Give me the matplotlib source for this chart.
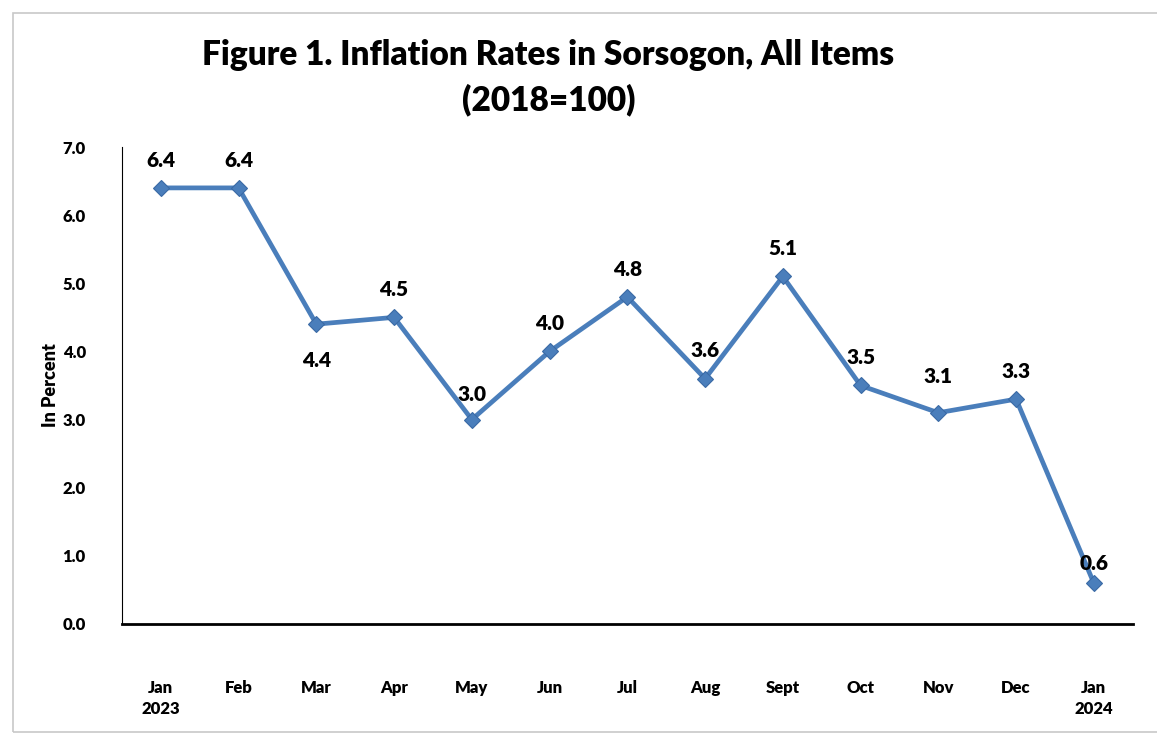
import matplotlib.pyplot as plt
from matplotlib.patches import Rectangle

months = ["Jan\n2023", "Feb", "Mar", "Apr", "May", "Jun", "Jul", "Aug",
          "Sept", "Oct", "Nov", "Dec", "Jan\n2024"]
rates = [6.4, 6.4, 4.4, 4.5, 3.0, 4.0, 4.8, 3.6, 5.1, 3.5, 3.1, 3.3, 0.6]
# label offsets in points (most labels sit above the marker)
label_dy = [20, 20, -26, 20, 18, 20, 20, 20, 20, 20, 26, 20, 14]

plt.rcParams['font.family'] = ['Lato', 'DejaVu Sans']

fig = plt.figure(figsize=(11.57, 7.38), dpi=100)
ax = fig.add_axes([0.1054, 0.1545, 0.8736, 0.6463])

x = list(range(len(rates)))
ax.plot(x, rates, color="#4a7ebb", linewidth=3.4, marker="D", markersize=8,
        markerfacecolor="#4a7ebb", markeredgecolor="#3a6aa5", markeredgewidth=0.8)

for xi, v, dy in zip(x, rates, label_dy):
    ax.annotate("{:.1f}".format(v), (xi, v), xytext=(0, dy), textcoords="offset points",
                ha="center", va="center", fontsize=15, fontweight="heavy")

ax.set_xlim(-0.5, len(rates) - 0.5)
ax.set_ylim(0, 7)
ax.set_yticks([0, 1, 2, 3, 4, 5, 6, 7])
ax.set_yticklabels(["{:.1f}".format(t) for t in range(8)], fontsize=12, fontweight="heavy")
ax.set_xticks(x)
ax.set_xticklabels(months, fontsize=12, fontweight="heavy", linespacing=1.45)
ax.tick_params(axis="x", length=0, pad=40)
ax.tick_params(axis="y", length=0, pad=26)

for s in ["top", "right"]:
    ax.spines[s].set_visible(False)
ax.spines["left"].set_linewidth(0.8)
ax.spines["bottom"].set_linewidth(2.0)

ax.set_ylabel("In Percent", fontsize=13, fontweight="heavy")
ax.yaxis.set_label_coords(-0.062, 0.5)

fig.text(0.474, 0.926, "Figure 1. Inflation Rates in Sorsogon, All Items",
         ha="center", va="center", fontsize=24, fontweight="heavy")
fig.text(0.474, 0.864, "(2018=100)", ha="center", va="center",
         fontsize=24, fontweight="heavy")

# chart frame
fig.patches.append(Rectangle((0.011, 0.008), 0.99, 0.975, transform=fig.transFigure,
                             fill=False, edgecolor="#c8c8c8", linewidth=1.2))

fig.savefig("out.png")
